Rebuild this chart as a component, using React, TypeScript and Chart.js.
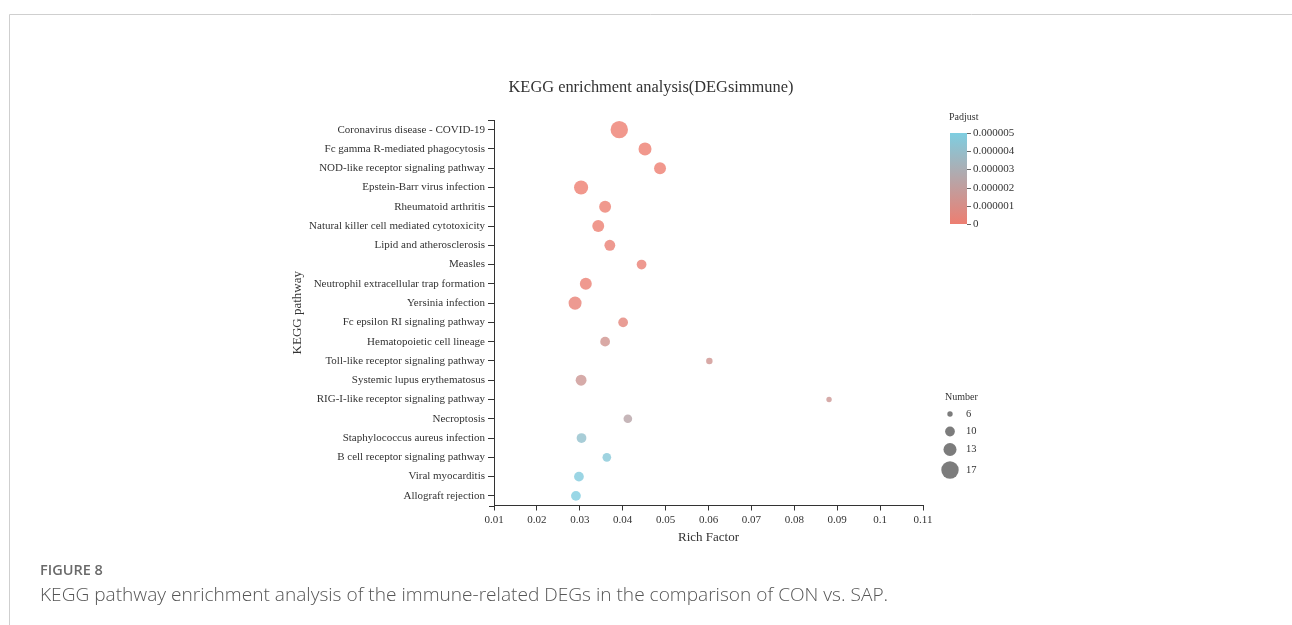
import React, { useEffect, useRef } from "react";
import { Chart, registerables } from "chart.js";

Chart.register(...registerables);

const pathways = [
  "Coronavirus disease - COVID-19",
  "Fc gamma R-mediated phagocytosis",
  "NOD-like receptor signaling pathway",
  "Epstein-Barr virus infection",
  "Rheumatoid arthritis",
  "Natural killer cell mediated cytotoxicity",
  "Lipid and atherosclerosis",
  "Measles",
  "Neutrophil extracellular trap formation",
  "Yersinia infection",
  "Fc epsilon RI signaling pathway",
  "Hematopoietic cell lineage",
  "Toll-like receptor signaling pathway",
  "Systemic lupus erythematosus",
  "RIG-I-like receptor signaling pathway",
  "Necroptosis",
  "Staphylococcus aureus infection",
  "B cell receptor signaling pathway",
  "Viral myocarditis",
  "Allograft rejection",
];

const richFactor = [
  0.0392, 0.0452, 0.0487, 0.0303, 0.0359, 0.0343, 0.037, 0.0444, 0.0314, 0.0289,
  0.0401, 0.0359, 0.0602, 0.0303, 0.0881, 0.0412, 0.0304, 0.0363, 0.0298, 0.0291,
];

const geneNumber = [17, 13, 12, 14, 12, 12, 11, 10, 12, 13, 10, 10, 7, 11, 6, 9, 10, 9, 10, 10];

const padjust = [
  2e-10, 5e-9, 1e-8, 3e-9, 4e-8, 6e-8, 1.2e-7, 1.5e-7, 1e-7, 1.8e-7,
  4e-7, 1.3e-6, 1.4e-6, 1.5e-6, 1.5e-6, 2.4e-6, 4.1e-6, 4.6e-6, 4.8e-6, 4.95e-6,
];

const xMin = 0.01;
const xMax = 0.11;
const xStep = 0.01;

const padjMax = 0.000005;
const padjTicks = [0, 0.000001, 0.000002, 0.000003, 0.000004, 0.000005];
const padjTickLabels = ["0", "0.000001", "0.000002", "0.000003", "0.000004", "0.000005"];

const numberLegend = [6, 10, 13, 17];

const title = "KEGG enrichment analysis(DEGsimmune)";
const xTitle = "Rich Factor";
const yTitle = "KEGG pathway";
const figLabel = "FIGURE 8";
const caption =
  "KEGG pathway enrichment analysis of the immune-related DEGs in the comparison of CON vs. SAP.";

const LOW = [237, 126, 113];
const HIGH = [126, 206, 225];

function colorFor(p: number, alpha = 1) {
  const t = Math.max(0, Math.min(1, p / padjMax));
  const c = LOW.map((v, i) => Math.round(v + (HIGH[i] - v) * t));
  return `rgba(${c[0]},${c[1]},${c[2]},${alpha})`;
}

function radiusFor(n: number) {
  return (5.4 + ((n - 6) * 12) / 11) / 2;
}

const SERIF = '"Liberation Serif", "Times New Roman", serif';

const overlay = {
  id: "overlay",
  afterDraw(chart: any) {
    const ctx = chart.ctx as CanvasRenderingContext2D;
    const area = chart.chartArea;
    ctx.save();
    // frame
    ctx.strokeStyle = "#cfcfcf";
    ctx.lineWidth = 1;
    ctx.beginPath();
    ctx.moveTo(9.5, 625);
    ctx.lineTo(9.5, 14.5);
    ctx.lineTo(1292, 14.5);
    ctx.stroke();

    // title
    ctx.fillStyle = "#333";
    ctx.textAlign = "center";
    ctx.textBaseline = "middle";
    ctx.font = `16.4px ${SERIF}`;
    ctx.fillText(title, 651, 88);

    // axis titles
    ctx.font = `13px ${SERIF}`;
    ctx.fillText(xTitle, (area.left + area.right) / 2, 538);
    ctx.save();
    ctx.translate(298, (area.top + area.bottom) / 2);
    ctx.rotate(-Math.PI / 2);
    ctx.fillText(yTitle, 0, 0);
    ctx.restore();

    // outer end ticks
    ctx.strokeStyle = "#333";
    ctx.beginPath();
    ctx.moveTo(area.left - 6, Math.round(area.top) + 0.5);
    ctx.lineTo(area.left, Math.round(area.top) + 0.5);
    ctx.moveTo(area.left - 5, Math.round(area.bottom) + 0.5);
    ctx.lineTo(area.left, Math.round(area.bottom) + 0.5);
    ctx.stroke();

    // colour bar legend
    const cbX = 950, cbW = 17, cbTop = 133, cbBot = 224;
    ctx.textAlign = "left";
    ctx.font = `10px ${SERIF}`;
    ctx.fillStyle = "#333";
    ctx.fillText("Padjust", 949, 117);
    const grad = ctx.createLinearGradient(0, cbBot, 0, cbTop);
    grad.addColorStop(0, colorFor(0));
    grad.addColorStop(0.5, colorFor(padjMax / 2));
    grad.addColorStop(1, colorFor(padjMax));
    ctx.fillStyle = grad;
    ctx.fillRect(cbX, cbTop, cbW, cbBot - cbTop);
    ctx.strokeStyle = "#666";
    ctx.font = `11px ${SERIF}`;
    ctx.fillStyle = "#333";
    padjTicks.forEach((v, i) => {
      const y = Math.round(cbBot - ((cbBot - cbTop) * v) / padjMax) + 0.5;
      ctx.beginPath();
      ctx.moveTo(cbX + cbW, y);
      ctx.lineTo(cbX + cbW + 4, y);
      ctx.stroke();
      ctx.fillText(padjTickLabels[i], cbX + cbW + 6, y);
    });

    // size legend
    ctx.font = `10px ${SERIF}`;
    ctx.fillText("Number", 945, 397);
    const ys = [414, 431.5, 449.5, 470];
    numberLegend.forEach((n, i) => {
      ctx.fillStyle = "rgba(110,110,110,0.9)";
      ctx.beginPath();
      ctx.arc(950, ys[i], radiusFor(n), 0, Math.PI * 2);
      ctx.fill();
      ctx.fillStyle = "#333";
      ctx.font = `10.5px ${SERIF}`;
      ctx.fillText(String(n), 966, ys[i]);
    });

    // caption
    ctx.textBaseline = "middle";
    ctx.fillStyle = "#6a6a6a";
    ctx.font = '600 14.5px "Open Sans", sans-serif';
    ctx.fillText(figLabel, 40, 571);
    ctx.fillStyle = "#555";
    ctx.font = '300 19.1px "Open Sans", sans-serif';
    ctx.fillText(caption, 40, 596);
    ctx.restore();
  },
};

export default function App() {
  const ref = useRef<HTMLCanvasElement | null>(null);
  useEffect(() => {
    if (!ref.current) return;
    const points = pathways.map((p, i) => ({ x: richFactor[i], y: p, r: radiusFor(geneNumber[i]) }));
    const chart = new Chart(ref.current, {
      type: "bubble",
      data: {
        labels: pathways,
        datasets: [
          {
            data: points as any,
            backgroundColor: padjust.map((p) => colorFor(p, 0.8)),
            borderWidth: 0,
            hoverBorderWidth: 0,
          },
        ],
      },
      options: {
        responsive: false,
        animation: false,
        events: [],
        layout: { padding: { left: 294, right: 369, top: 120, bottom: 74.5 } },
        plugins: { legend: { display: false }, tooltip: { enabled: false }, title: { display: false } },
        scales: {
          x: {
            type: "linear",
            min: xMin,
            max: xMax,
            afterFit: (s: any) => {
              s.height = 45;
            },
            ticks: {
              stepSize: xStep,
              color: "#333",
              font: { family: SERIF, size: 11 },
              padding: 3,
              maxRotation: 0,
              callback: (v: any) => String(Number(Number(v).toFixed(2))),
            },
            grid: { display: true, drawOnChartArea: false, drawTicks: true, tickLength: 5, color: "#333" },
            border: { display: true, color: "#333" },
          },
          y: {
            type: "category",
            labels: pathways,
            offset: true,
            afterFit: (s: any) => {
              s.width = 200;
            },
            ticks: {
              autoSkip: false,
              color: "#333",
              font: { family: SERIF, size: 11 },
              padding: 3,
            },
            grid: { display: true, offset: false, drawOnChartArea: false, drawTicks: true, tickLength: 6, color: "#333" },
            border: { display: true, color: "#333" },
          },
        },
      },
      plugins: [overlay],
    });
    return () => chart.destroy();
  }, []);
  return (
    <canvas
      ref={ref}
      width={1292}
      height={625}
      style={{ position: "absolute", left: 0, top: 0, display: "block", width: 1292, height: 625 }}
    />
  );
}
